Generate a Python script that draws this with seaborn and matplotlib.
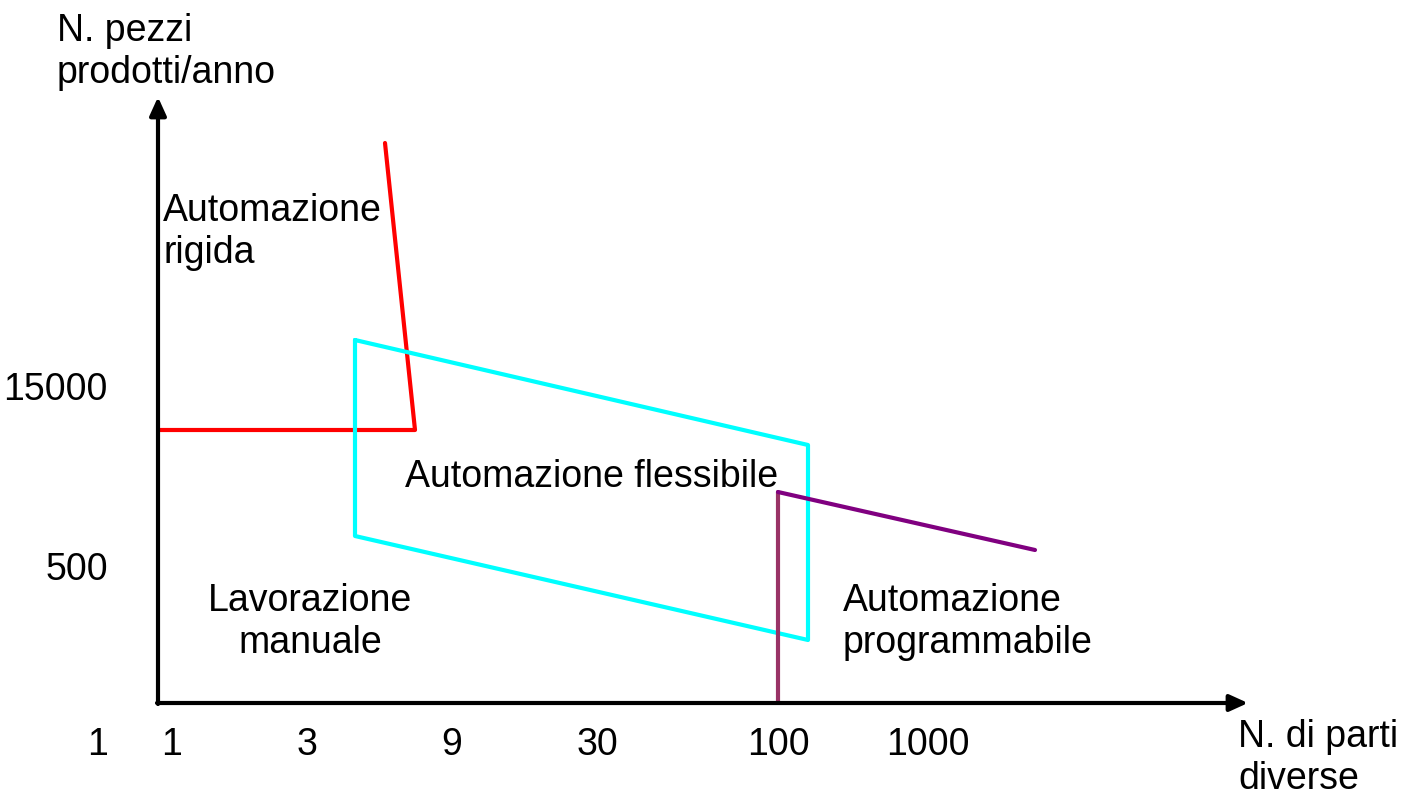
import matplotlib
matplotlib.use('Agg')
import matplotlib.pyplot as plt
import pandas as pd
import seaborn as sns

# ── Dati dello schema (unità: origine nell'angolo degli assi) ────────────────
rigida_x = [2, 257, 227]
rigida_y = [273, 273, 560]

flessibile_x = [197, 650, 650, 197, 197]
flessibile_y = [363, 258, 63, 167, 363]

programm_v_x = [620, 620]
programm_v_y = [0, 211]
programm_d_x = [620, 877]
programm_d_y = [211, 153]

tick_x_pos = [-60, 14, 149, 294, 439, 620, 770]
tick_x_lab = ['1', '1', '3', '9', '30', '100', '1000']
tick_y_pos = [313, 133]
tick_y_lab = ['15000', '500']

sns.set_style('white')
plt.rcParams['font.family'] = ['Liberation Sans', 'DejaVu Sans']
plt.rcParams['text.color'] = 'black'

fig = plt.figure(figsize=(14.02, 7.96), dpi=100)
ax = fig.add_axes([0, 0, 1, 1])
ax.set_xlim(-158, 1244)
ax.set_ylim(-93, 703)
ax.axis('off')

def traccia(xs, ys, colore):
    df = pd.DataFrame({'x': xs, 'y': ys})
    sns.lineplot(data=df, x='x', y='y', sort=False, estimator=None,
                 color=colore, linewidth=3, ax=ax)

traccia(rigida_x, rigida_y, '#ff0000')
traccia(flessibile_x, flessibile_y, '#00ffff')
traccia(programm_v_x, programm_v_y, '#993366')
traccia(programm_d_x, programm_d_y, '#800080')

# assi con frecce
freccia = dict(arrowstyle='-|>,head_length=1.1,head_width=0.5', color='black',
               lw=3, shrinkA=0, shrinkB=0)
ax.annotate('', xy=(0, 606), xytext=(0, -1), arrowprops=freccia)
ax.annotate('', xy=(1090, 0), xytext=(-1, 0), arrowprops=freccia)

fs = 27
for p, t in zip(tick_x_pos, tick_x_lab):
    ax.text(p, -42, t, ha='center', va='center', fontsize=fs)
for p, t in zip(tick_y_pos, tick_y_lab):
    ax.text(-50, p, t, ha='right', va='center', fontsize=fs)

ax.text(-101, 690, 'N. pezzi\nprodotti/anno', ha='left', va='top', fontsize=fs)
ax.text(5, 510, 'Automazione\nrigida', ha='left', va='top', fontsize=fs)
ax.text(247, 226, 'Automazione flessibile', ha='left', va='center', fontsize=fs)
ax.text(152, 81, 'Lavorazione\nmanuale', ha='center', va='center',
        multialignment='center', fontsize=fs)
ax.text(685, 81, 'Automazione\nprogrammabile', ha='left', va='center', fontsize=fs)
ax.text(1080, -55, 'N. di parti\ndiverse', ha='left', va='center', fontsize=fs)

plt.savefig('out.png', dpi=100)
